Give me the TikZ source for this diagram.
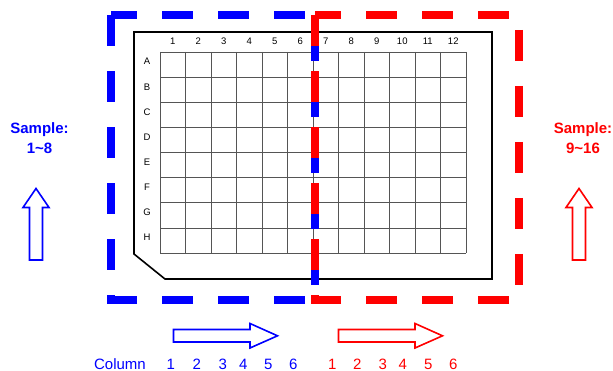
\documentclass[tikz,border=0pt]{standalone}
\usepackage{fontspec}
\setmainfont{Liberation Sans}
\usetikzlibrary{positioning}
\definecolor{halfblue}{RGB}{0,0,255}
\definecolor{halfred}{RGB}{255,0,0}
\definecolor{gridcol}{RGB}{85,85,85}
\tikzset{
    regionbox/.style={
        line width=7.5pt,
        dash pattern=on 31pt off 25pt,
        dash phase=5pt,
        line join=miter
    },
    hollowarrow/.style={
        line width=1.6pt,
        fill=white,
        line join=miter
    },
    gridline/.style={draw=gridcol, line width=0.7pt},
    wellmark/.style={font=\fontsize{9.5}{11}\selectfont, inner sep=0pt},
    samplemark/.style={font=\fontsize{15}{20}\selectfont\bfseries, align=center, inner sep=0pt},
    colmark/.style={font=\fontsize{15}{18}\selectfont, inner sep=0pt}
}

\begin{document}
\begin{tikzpicture}[x=1pt, y=-1pt]
    \useasboundingbox (0,0) rectangle (613,371);

    % --- plate outline ---
    \draw [line width=1.6pt, line join=miter] (134,32) -- (492,32) -- (492,279) -- (165,279) -- (134,254) -- cycle;

    % --- 96 well grid ---
    \foreach \c in {0,...,12} \draw [gridline] (160+25.5*\c,52) -- (160+25.5*\c,253);
    \foreach \r in {0,...,8} \draw [gridline] (160,52+25.125*\r) -- (466,52+25.125*\r);

    \foreach \c in {1,...,12} \node (col\c) [wellmark] at (160+25.5*\c-12.75,41) {\c};
    \foreach \r [count=\i] in {A,B,C,D,E,F,G,H} \node (row\r) [wellmark] at (147,52+25.125*\i-15.5) {\r};

    % --- sample halves ---
    \draw [regionbox, halfblue] (111,15) -- (315,15) -- (315,300) -- (111,300) -- cycle;
    \draw [regionbox, halfred] (315,15) -- (519,15) -- (519,300) -- (315,300) -- cycle;

    % --- sample labels + arrows ---
    \node (sampleL) [samplemark, text=halfblue] at (39.5,138) {Sample:\\1\textasciitilde8};
    \node (sampleR) [samplemark, text=halfred] at (583,138) {Sample:\\9\textasciitilde16};

    \draw [hollowarrow, draw=halfblue] (29.5,260) -- (29.5,207.5) -- (23,207.5) -- (36,188.5) -- (49,207.5) -- (42.5,207.5) -- (42.5,260) -- cycle;
    \draw [hollowarrow, draw=halfred] (572.5,260) -- (572.5,207.5) -- (566,207.5) -- (579,188.5) -- (592,207.5) -- (585.5,207.5) -- (585.5,260) -- cycle;

    \draw [hollowarrow, draw=halfblue] (173.5,329.5) -- (250,329.5) -- (250,323.5) -- (277.5,335.8) -- (250,348) -- (250,342) -- (173.5,342) -- cycle;
    \draw [hollowarrow, draw=halfred] (338.5,329.5) -- (415,329.5) -- (415,323.5) -- (442.5,335.8) -- (415,348) -- (415,342) -- (338.5,342) -- cycle;

    % --- column numbering ---
    \node (colword) [colmark, text=halfblue] at (120,364) {Column};
    \foreach \n/\x in {1/170.7, 2/196.7, 3/222.7, 4/243.3, 5/268.3, 6/293.3}
        \node (bnum\n) [colmark, text=halfblue] at (\x,364) {\n};
    \foreach \n/\x in {1/332.3, 2/357.3, 3/382.7, 4/402.7, 5/428.3, 6/453.3}
        \node (rnum\n) [colmark, text=halfred] at (\x,364) {\n};
\end{tikzpicture}
\end{document}
